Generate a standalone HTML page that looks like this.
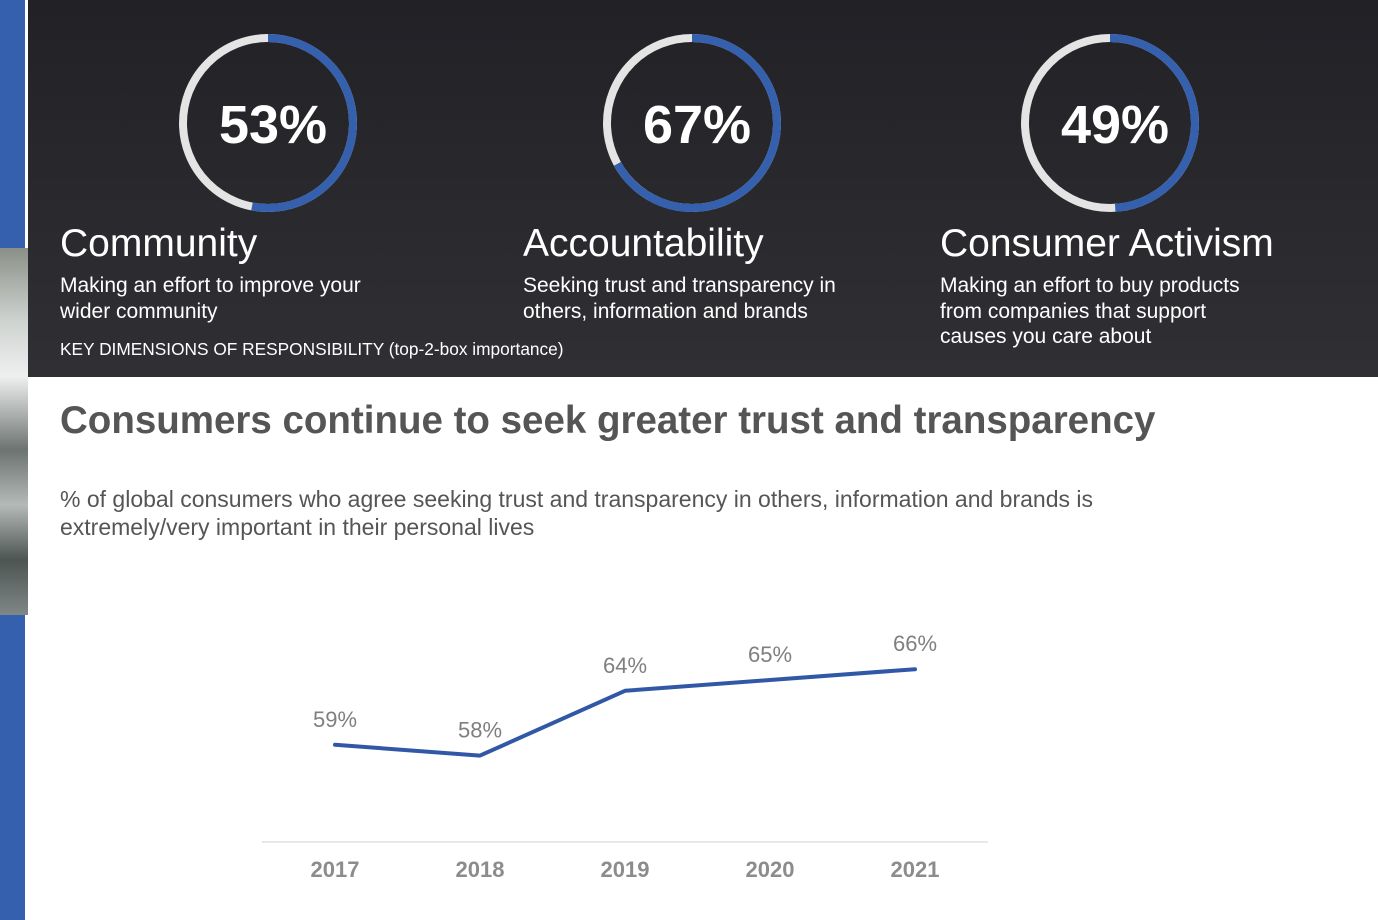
<!DOCTYPE html>
<html><head><meta charset="utf-8"><style>
body{margin:0;width:1378px;height:920px;position:relative;overflow:hidden;background:#fff;font-family:"Liberation Sans",sans-serif}
.a{position:absolute;margin:0;white-space:nowrap}
</style></head><body>
<div class="a" style="left:0;top:0;width:25px;height:920px;background:#3560ae"></div>
<div class="a" style="left:0;top:248px;width:28px;height:367px;background:linear-gradient(180deg,#8a9088 0%,#cfd3d0 20%,#eef0ef 35%,#6d7370 55%,#b5bab8 70%,#4c5552 85%,#7f8886 100%)"></div>
<div class="a" style="left:28px;top:0;width:1350px;height:377px;background:linear-gradient(180deg,#212126 0%,#303034 100%)"></div>
<svg class="a" style="left:0;top:0" width="1378" height="377" id="rings"></svg>
<h3 class="a" style="left:60px;top:222px;font-size:39px;font-weight:normal;color:#fff">Community</h3>
<p class="a" style="left:60px;top:273px;font-size:21px;line-height:25.5px;color:#fff">Making an effort to improve your<br>wider community</p>
<p class="a" style="left:60px;top:339px;font-size:17.3px;color:#fff">KEY DIMENSIONS OF RESPONSIBILITY (top-2-box importance)</p>
<h3 class="a" style="left:523px;top:222px;font-size:39px;font-weight:normal;color:#fff">Accountability</h3>
<p class="a" style="left:523px;top:273px;font-size:21px;line-height:25.5px;color:#fff">Seeking trust and transparency in<br>others, information and brands</p>
<h3 class="a" style="left:940px;top:222px;font-size:39px;font-weight:normal;color:#fff">Consumer Activism</h3>
<p class="a" style="left:940px;top:273px;font-size:21px;line-height:25.5px;color:#fff">Making an effort to buy products<br>from companies that support<br>causes you care about</p>
<h1 class="a" style="left:60px;top:399px;font-size:38.5px;font-weight:bold;color:#555">Consumers continue to seek greater trust and transparency</h1>
<p class="a" style="left:60px;top:485px;font-size:23px;line-height:28px;color:#555">% of global consumers who agree seeking trust and transparency in others, information and brands is<br>extremely/very important in their personal lives</p>
<svg class="a" style="left:0;top:560px" width="1378" height="360" id="chart"></svg>
<script>
const ringValues=[53,67,49];
const ringCenters=[268,692,1110];
const years=["2017","2018","2019","2020","2021"];
const values=[59,58,64,65,66];
const valueLabels=["59%","58%","64%","65%","66%"];
const NS="http://www.w3.org/2000/svg";
function mk(p,t,a){const e=document.createElementNS(NS,t);for(const k in a)e.setAttribute(k,a[k]);p.appendChild(e);return e;}
const rs=document.getElementById('rings');
ringValues.forEach((v,i)=>{
 const cx=ringCenters[i],cy=123,r=85,C=2*Math.PI*r;
 const g=mk(rs,'circle',{cx,cy,r,fill:'none',stroke:'#e4e4e4','stroke-width':8});
 
 
 const b=mk(rs,'circle',{cx,cy,r,fill:'none',stroke:'#3560ae','stroke-width':8,'stroke-dasharray':(C*v/100)+' '+C,transform:`rotate(-90 ${cx} ${cy})`});
 
 
 const t=mk(rs,'text',{x:cx+5,y:143,'text-anchor':'middle','font-size':54,'font-weight':'bold',fill:'#fff','font-family':'Liberation Sans'});
 t.textContent=v+'%';
 
 
});
const ch=document.getElementById('chart');
const OY=560;
const x=i=>335+i*145;
const y=v=>842-(v-50)*10.8-OY;
const ax=mk(ch,'line',{x1:262,x2:988,y1:842-OY,y2:842-OY,stroke:'#e0e0e0','stroke-width':1.5});


const ln=mk(ch,'polyline',{points:values.map((v,i)=>x(i)+','+y(v)).join(' '),fill:'none',stroke:'#3158a6','stroke-width':4,'stroke-linecap':'round','stroke-linejoin':'round'});


values.forEach((v,i)=>{
 const t=mk(ch,'text',{x:x(i),y:y(v)-18,'text-anchor':'middle','font-size':22,fill:'#7f7f7f','font-family':'Liberation Sans'});
 t.textContent=valueLabels[i];
 
 
 const k=mk(ch,'text',{x:x(i),y:877-OY,'text-anchor':'middle','font-size':22,'font-weight':'bold',fill:'#8c8c8c','font-family':'Liberation Sans'});
 k.textContent=years[i];
 
 
});
</script>
</body></html>
